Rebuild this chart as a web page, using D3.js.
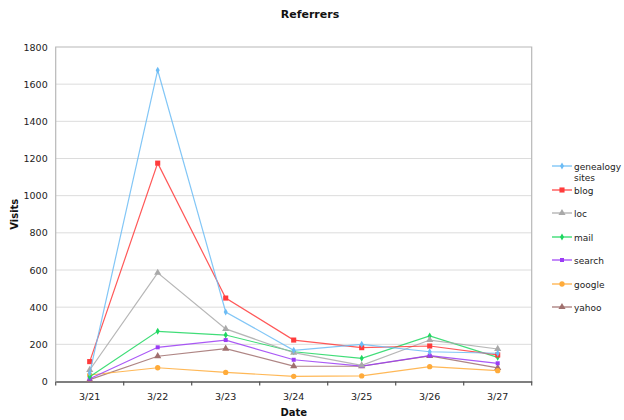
<!DOCTYPE html>
<html>
<head>
<meta charset="utf-8">
<script src="https://cdn.jsdelivr.net/npm/d3@7"></script>
<style>
  html, body { margin: 0; padding: 0; background: #fff; }
  svg { display: block; font-family: "DejaVu Sans", Verdana, sans-serif; }
</style>
</head>
<body>
<svg id="chart" width="624" height="420"></svg>
<script>
// Daily visits by referrer
const dates = ["3/21", "3/22", "3/23", "3/24", "3/25", "3/26", "3/27"];
const yTicks = [0, 200, 400, 600, 800, 1000, 1200, 1400, 1600, 1800];

const seriesNames = ["genealogy sites", "blog", "loc", "mail", "search", "google", "yahoo"];
const genealogy = [45, 1675, 374, 168, 200, 160, 152];
const blog      = [107, 1175, 449, 223, 182, 191, 143];
const loc       = [62, 585, 283, 155, 87, 223, 175];
const mail      = [25, 270, 250, 160, 125, 245, 130];
const search    = [15, 184, 223, 117, 83, 139, 98];
const google    = [35, 74, 49, 28, 30, 80, 58];
const yahoo     = [10, 136, 177, 83, 82, 138, 73];

const seriesValues = [genealogy, blog, loc, mail, search, google, yahoo];
const colors  = ["#6cbcf5", "#ff3b3b", "#a9a9a9", "#1ed760", "#9b3cf5", "#ffab3a", "#a0706e"];
const shapes  = [d3.symbolDiamond, d3.symbolSquare, d3.symbolTriangle, d3.symbolDiamond,
                 d3.symbolSquare, d3.symbolCircle, d3.symbolTriangle];
const sizes   = [14, 26, 22, 14, 16, 22, 22];

const svg = d3.select("#chart");
const plotLeft = 55.7, plotRight = 531.7, plotTop = 47, plotBottom = 381.5;

const x = d3.scaleBand().domain(dates).range([plotLeft, plotRight]).padding(0);
const y = d3.scaleLinear().domain([0, 1800]).range([plotBottom, plotTop]);

// gridlines
svg.append("g")
  .selectAll("line")
  .data(yTicks.filter(d => d > 0 && d < 1800))
  .join("line")
  .attr("x1", plotLeft).attr("x2", plotRight)
  .attr("y1", d => y(d)).attr("y2", d => y(d))
  .attr("stroke", "#dcdcdc").attr("stroke-width", 1);

// frame
svg.append("path")
  .attr("d", `M${plotLeft},${plotBottom}V${plotTop}H${plotRight}V${plotBottom}`)
  .attr("fill", "none").attr("stroke", "#b8b8b8").attr("stroke-width", 1.2);

// y axis labels
const yAxis = d3.axisLeft(y).tickValues(yTicks).tickFormat(d3.format("d")).tickSize(0).tickPadding(8);
const gy = svg.append("g").attr("transform", `translate(${plotLeft},0)`).call(yAxis);
gy.select(".domain").remove();
gy.selectAll("text").attr("font-size", 9.5).attr("fill", "#222")
  .attr("font-family", "DejaVu Sans, Verdana, sans-serif");

// x axis
const xAxis = d3.axisBottom(x).tickSize(0).tickPadding(12);
const gx = svg.append("g").attr("transform", `translate(0,${plotBottom})`).call(xAxis);
gx.select(".domain").attr("stroke", "#555").attr("stroke-width", 1.6);
gx.selectAll("text").attr("font-size", 9.5).attr("fill", "#222")
  .attr("font-family", "DejaVu Sans, Verdana, sans-serif");
// tick marks at band boundaries
const bounds = dates.map(d => x(d)).concat([x(dates[dates.length - 1]) + x.bandwidth()]);
svg.append("g").selectAll("line").data(bounds).join("line")
  .attr("x1", d => d).attr("x2", d => d)
  .attr("y1", plotBottom).attr("y2", plotBottom + 4)
  .attr("stroke", "#555").attr("stroke-width", 1.2);

const cx = d => x(d) + x.bandwidth() / 2;
const line = d3.line().x((v, i) => cx(dates[i])).y(v => y(v));

// series lines, last legend entry drawn first so the leading series sit on top
const order = d3.range(seriesNames.length).reverse();
order.forEach(k => {
  svg.append("path")
    .datum(seriesValues[k])
    .attr("d", line)
    .attr("fill", "none")
    .attr("stroke", colors[k])
    .attr("stroke-width", 1.2)
    .attr("stroke-opacity", 0.85);
  svg.append("g").selectAll("path")
    .data(seriesValues[k])
    .join("path")
    .attr("transform", (v, i) => `translate(${cx(dates[i])},${y(v)})`)
    .attr("d", d3.symbol().type(shapes[k]).size(sizes[k]))
    .attr("fill", colors[k]);
});

// title and axis titles
svg.append("text").attr("x", 310).attr("y", 18).attr("text-anchor", "middle")
  .attr("font-size", 11).attr("font-weight", "bold").attr("fill", "#111").text("Referrers");
svg.append("text").attr("x", (plotLeft + plotRight) / 2).attr("y", 416).attr("text-anchor", "middle")
  .attr("font-size", 10).attr("font-weight", "bold").attr("fill", "#111").text("Date");
svg.append("text")
  .attr("transform", `translate(18,${(plotTop + plotBottom) / 2}) rotate(-90)`)
  .attr("text-anchor", "middle")
  .attr("font-size", 10).attr("font-weight", "bold").attr("fill", "#111").text("Visits");

// legend
const legendY = [166, 190, 213, 237, 260, 284, 307];
const lg = svg.append("g");
seriesNames.forEach((name, k) => {
  const g = lg.append("g").attr("transform", `translate(0,${legendY[k]})`);
  g.append("line").attr("x1", 552).attr("x2", 572).attr("y1", 0).attr("y2", 0)
    .attr("stroke", colors[k]).attr("stroke-width", 1.2);
  g.append("path").attr("transform", "translate(562,0)")
    .attr("d", d3.symbol().type(shapes[k]).size(sizes[k])).attr("fill", colors[k]);
  const words = name.split(" ");
  const t = g.append("text").attr("x", 574).attr("y", 3.5)
    .attr("font-size", 9).attr("fill", "#222");
  words.forEach((w, i) => {
    t.append("tspan").attr("x", 574).attr("dy", i === 0 ? 0 : 11).text(w);
  });
});
</script>
</body>
</html>
